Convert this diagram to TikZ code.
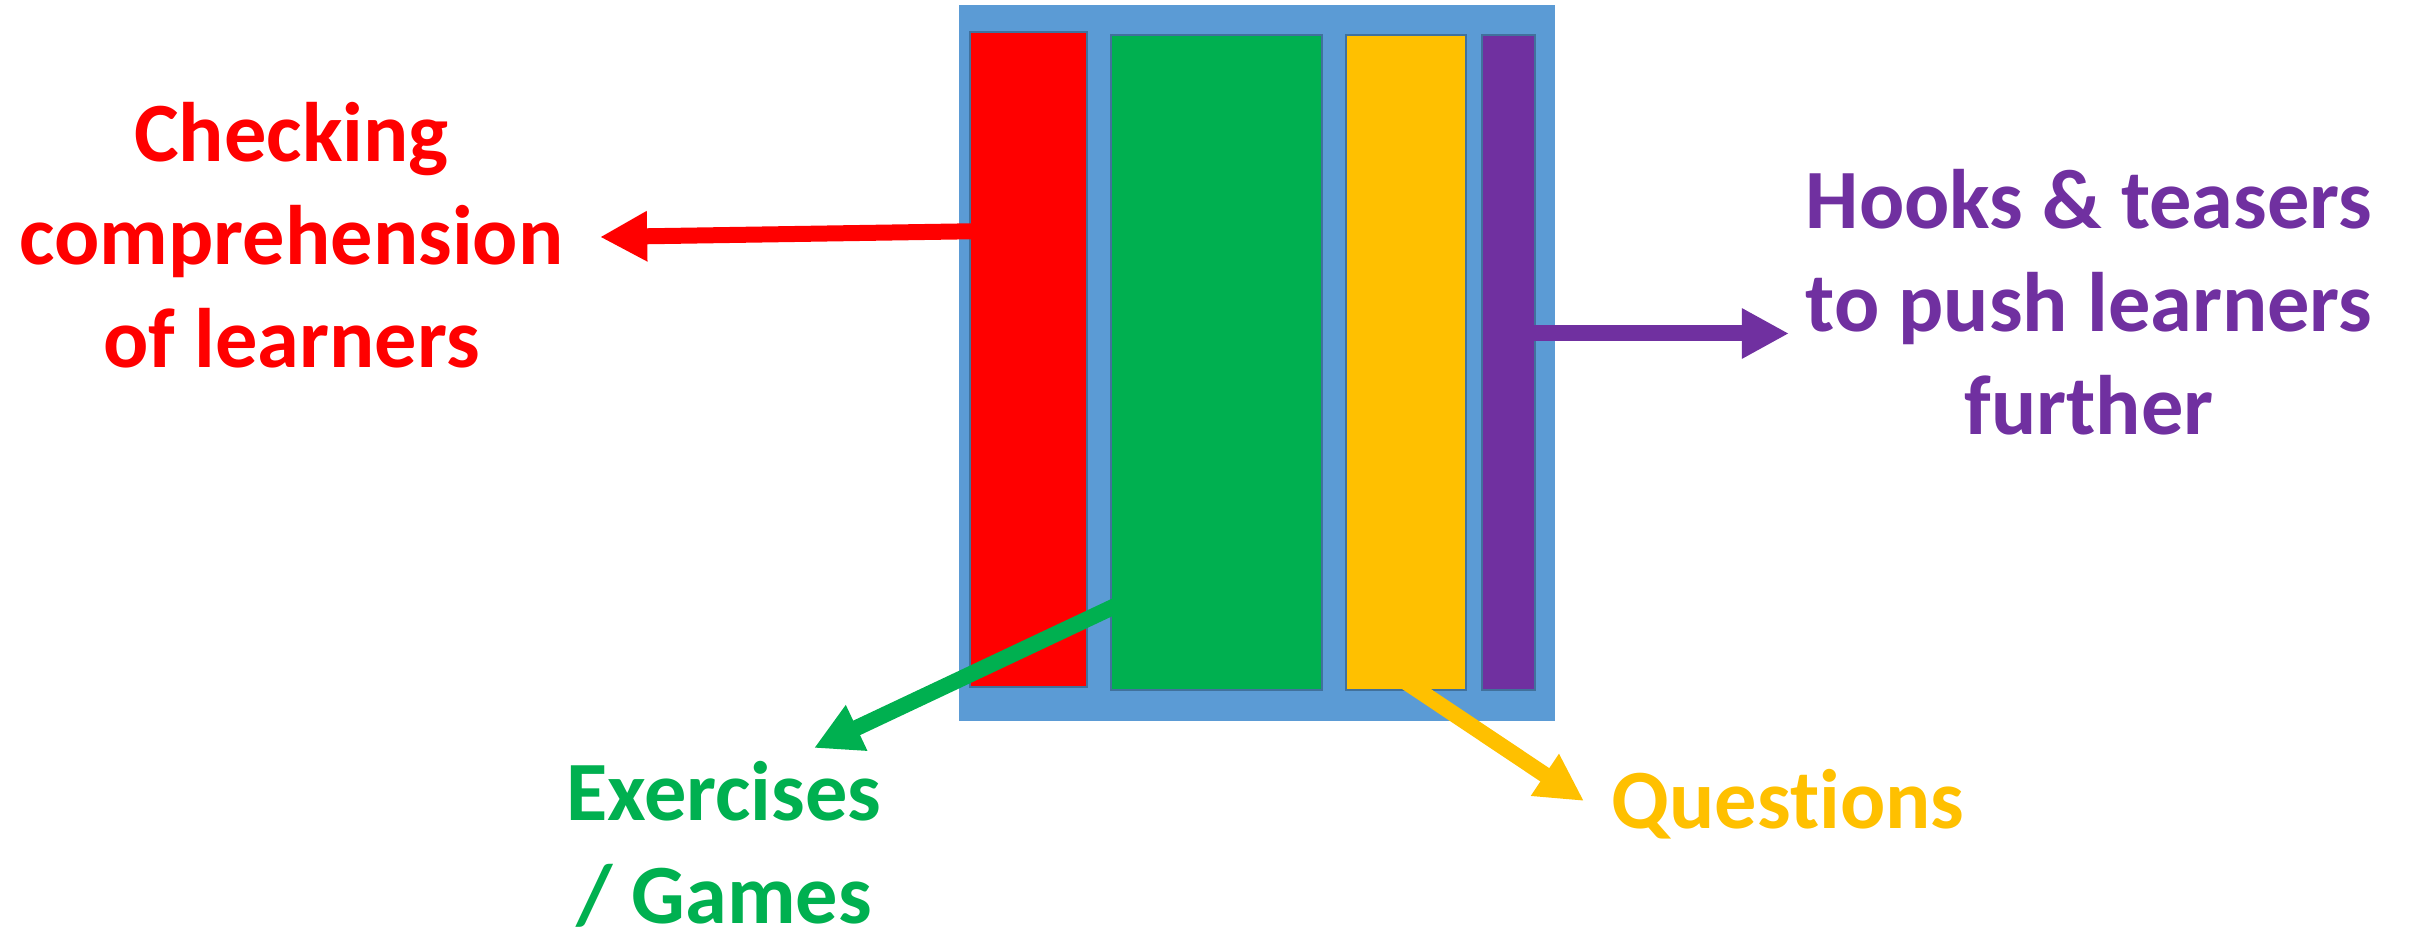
\documentclass[tikz,border=0pt]{standalone}
\usepackage{fontspec}
\setmainfont{Carlito}[RawFeature={-liga;-clig;-calt;-dlig}]
\usetikzlibrary{arrows.meta}
\definecolor{cblue}{HTML}{5B9BD5}
\definecolor{cedge}{HTML}{41719C}
\definecolor{cred}{HTML}{FF0000}
\definecolor{cgreen}{HTML}{00B050}
\definecolor{cyellow}{HTML}{FFC000}
\definecolor{cpurple}{HTML}{7030A0}
\begin{document}
\begin{tikzpicture}[x=0.01cm,y=-0.01cm,
  panel/.style={rectangle,fill=cblue,draw=none,inner sep=0pt,minimum width=5.96cm,minimum height=7.16cm},
  bar/.style={rectangle,draw=cedge,line width=0.6pt,inner sep=0pt,minimum height=6.55cm},
  conn/.style={line width=4.55pt,-{Triangle[length=13.4pt,width=13.4pt]}},
  lbl/.style={font=\fontsize{24}{29.2}\selectfont\bfseries,align=center,inner sep=0pt,anchor=north}]
\useasboundingbox (0,0) rectangle (2410,934);
\node[panel] (panel) at (1257,363) {};
\node[bar,fill=cred,minimum width=1.17cm] (redbar) at (1028.5,359.5) {};
\node[bar,fill=cgreen,minimum width=2.11cm] (greenbar) at (1216.5,362.5) {};
\node[bar,fill=cyellow,minimum width=1.20cm] (yellowbar) at (1406,362.5) {};
\node[bar,fill=cpurple,minimum width=0.53cm] (purplebar) at (1508.5,362.5) {};
\coordinate (redS) at (990,231);
\coordinate (redT) at (600,237);
\coordinate (greenS) at (1130,599);
\coordinate (greenT) at (814,748);
\coordinate (yellowS) at (1403,680);
\coordinate (yellowT) at (1584,801);
\coordinate (purpleS) at (1520,333.5);
\coordinate (purpleT) at (1789,333.5);
\draw[conn,cred] (redS) -- (redT);
\draw[conn,cgreen] (greenS) -- (greenT);
\draw[conn,cyellow] (yellowS) -- (yellowT);
\draw[conn,cpurple] (purpleS) -- (purpleT);
\node[lbl,text=cred] (redlbl) at (291.5,90.7) {\rule{0pt}{20pt}Checking\\comprehension\\of learners};
\node[lbl,text=cpurple] (purplelbl) at (2089,157.7) {\rule{0pt}{20pt}Hooks \& teasers\\to push learners\\further};
\node[lbl,text=cgreen] (greenlbl) at (724,749.7) {\rule{0pt}{20pt}Exercises\\/ Games};
\node[font=\fontsize{24}{29.2}\selectfont\bfseries,inner sep=0pt,anchor=base,text=cyellow] (yellowlbl) at (1788,828) {Quest\kern0pt ions};
\end{tikzpicture}
\end{document}
